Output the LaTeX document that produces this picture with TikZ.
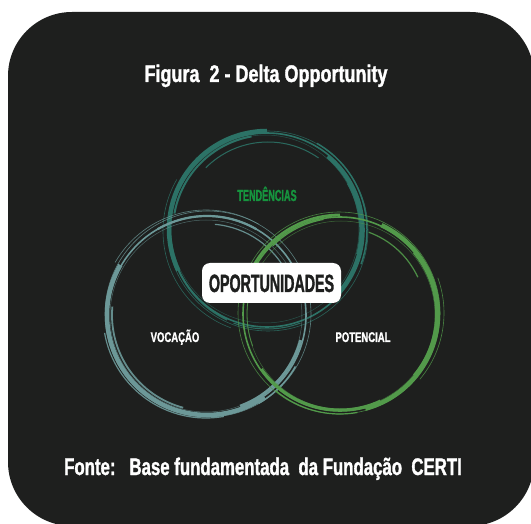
\documentclass[tikz,border=0pt]{standalone}
\usepackage{fontspec}
\newfontfamily\titlefont[FakeStretch=0.75, FakeBold=1.3]{Liberation Sans Bold}
\newfontfamily\sourcefont[FakeStretch=0.70, FakeBold=1.3]{Liberation Sans Bold}
\newfontfamily\labelfont[FakeStretch=0.68, FakeBold=1.2]{Liberation Sans Bold}
\newfontfamily\narrowfont[FakeStretch=0.57, FakeBold=1.3]{Liberation Sans Bold}
\definecolor{bgdark}{RGB}{30,31,30}
\definecolor{ringtop}{RGB}{44,114,102}
\definecolor{ringleft}{RGB}{108,152,152}
\definecolor{ringright}{RGB}{82,154,74}
\definecolor{tendgreen}{RGB}{22,148,62}
\begin{document}
\begin{tikzpicture}[x=1pt,y=1pt,
  lbl/.style={inner sep=0pt, anchor=base},
  oppbox/.style={fill=white, rounded corners=8pt, minimum width=139pt, minimum height=40pt, inner sep=0pt}]
\useasboundingbox (0,0) rectangle (531,523);
\fill[white] (0,0) rectangle (531,523);
\fill[bgdark, rounded corners=64pt] (8,-3) rectangle (534,511);

% top ring (Tendencias)
\foreach \dx/\dy/\dr/\s/\e/\w/\o [evaluate=\dx as \cx using 267+\dx, evaluate=\dy as \cy using 293+\dy, evaluate=\dr as \rr using 97+\dr] in {
  0/0/0/0/360/1.6/1,
  1/-1/3/0/360/0.6/0.8,
  -2/1/-3/0/360/0.5/0.6,
  0/1/1/90/205/4.5/1,
  1/0/-2/100/170/2.0/1,
  -1/0/-1/-40/50/4.0/1,
  0/0/3/-20/60/1.5/1,
  1/0/-9/55/135/1.0/0.9,
  -1/-1/6/150/250/0.6/0.8,
  2/0/2/195/245/1.8/0.9,
  0/0/-4/-15/30/1.4/0.9,
  0/-1/1/250/290/1.0/0.9}
  \draw[ringtop, line width=\w, opacity=\o, shift={(\cx,\cy)}]
    (\s:\rr) arc[start angle=\s, end angle=\e, radius=\rr];

% left ring (Vocacao)
\foreach \dx/\dy/\dr/\s/\e/\w/\o [evaluate=\dx as \cx using 207+\dx, evaluate=\dy as \cy using 208+\dy, evaluate=\dr as \rr using 99+\dr] in {
  0/0/0/0/360/1.6/1,
  1/1/4/0/360/0.6/0.8,
  -1/-1/-3/0/360/0.5/0.6,
  0/0/1/150/305/4.5/1,
  1/0/-3/175/255/1.8/0.9,
  -1/0/4/190/280/1.2/0.9,
  0/1/-9/25/85/1.2/0.9,
  -1/0/6/60/150/0.6/0.8,
  0/0/-2/290/345/3.0/1,
  1/-1/2/300/330/1.5/1,
  0/0/0/60/120/2.2/1}
  \draw[ringleft, line width=\w, opacity=\o, shift={(\cx,\cy)}]
    (\s:\rr) arc[start angle=\s, end angle=\e, radius=\rr];

% right ring (Potencial)
\foreach \dx/\dy/\dr/\s/\e/\w/\o [evaluate=\dx as \cx using 340+\dx, evaluate=\dy as \cy using 209+\dy, evaluate=\dr as \rr using 97+\dr] in {
  0/0/0/0/360/1.6/1,
  -1/1/4/0/360/0.6/0.8,
  1/-1/-3/0/360/0.5/0.6,
  0/0/1/-75/65/4.5/1,
  1/0/-2/-40/40/1.8/1,
  0/0/-1/215/295/3.0/1,
  0/0/3/230/280/1.2/1,
  -1/0/-10/25/70/1.2/0.9,
  0/0/2/90/150/2.8/1,
  0/1/-2/100/135/1.2/1,
  1/1/6/-40/20/0.6/0.8,
  0/0/-4/150/200/0.8/0.8}
  \draw[ringright, line width=\w, opacity=\o, shift={(\cx,\cy)}]
    (\s:\rr) arc[start angle=\s, end angle=\e, radius=\rr];

\node[lbl, text=white, font=\titlefont\fontsize{24}{24}\selectfont] (title) at (266,441) {Figura\ \ 2 - Delta Opportunity};
\node[lbl, text=tendgreen, font=\narrowfont\fontsize{16}{16}\selectfont] (tend) at (267,322) {TENDÊNCIAS};
\node[lbl, text=white, font=\labelfont\fontsize{14}{14}\selectfont] (voc) at (175,181) {VOCAÇÃO};
\node[lbl, text=white, font=\labelfont\fontsize{14}{14}\selectfont] (pot) at (363,181) {POTENCIAL};
\node[oppbox] (opp) at (271.5,240) {};
\node[lbl, text=bgdark, font=\narrowfont\fontsize{25}{25}\selectfont] (opptext) at (271.5,231) {OPORTUNIDADES};
\node[lbl, text=white, font=\sourcefont\fontsize{24}{24}\selectfont] (fonte) at (263,48) {Fonte:\ \ \ Base fundamentada\ \ da Fundação\ \ CERTI};
\end{tikzpicture}
\end{document}
